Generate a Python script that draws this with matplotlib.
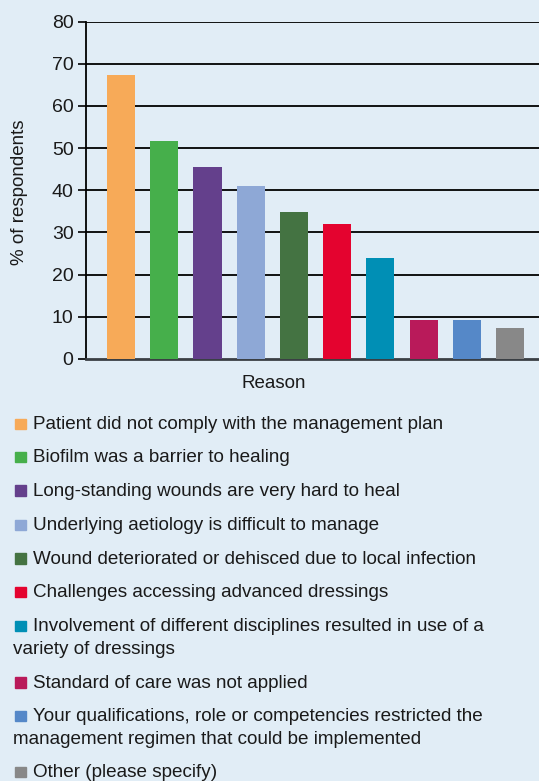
import matplotlib
matplotlib.use("Agg")
import matplotlib.pyplot as plt
from matplotlib.patches import Rectangle

plt.rcParams['font.family'] = ['Liberation Sans', 'DejaVu Sans']

categories = [
    "Patient did not comply with the management plan",
    "Biofilm was a barrier to healing",
    "Long-standing wounds are very hard to heal",
    "Underlying aetiology is difficult to manage",
    "Wound deteriorated or dehisced due to local infection",
    "Challenges accessing advanced dressings",
    "Involvement of different disciplines resulted in use of a\nvariety of dressings",
    "Standard of care was not applied",
    "Your qualifications, role or competencies restricted the\nmanagement regimen that could be implemented",
    "Other (please specify)",
]
values = [67.4, 51.7, 45.6, 41.0, 34.9, 32.0, 24.0, 9.3, 9.3, 7.4]
colors = ["#F7AA58", "#46AF4B", "#64408C", "#8EA8D6", "#447342",
          "#E4032F", "#008FB5", "#B91A5A", "#5588C8", "#888888"]
yticks = [0, 10, 20, 30, 40, 50, 60, 70, 80]

BG = "#E1EDF6"
TXT = "#1a1a1a"
W, H = 539, 781
fig = plt.figure(figsize=(W/100, H/100), dpi=100, facecolor=BG)
ax = fig.add_axes([86/W, 1-359/H, (539-86)/W, (359-21.5)/H], facecolor=BG)

x = list(range(len(values)))
ax.bar(x, values, width=0.65, color=colors, zorder=3)
ax.set_xlim(-0.81, 9.67)
ax.set_ylim(0, 80)
ax.set_yticks(yticks)
ax.set_yticklabels([str(t) for t in yticks], fontsize=14, color=TXT)
ax.set_xticks([])
for t in yticks[1:]:
    ax.axhline(t, color="black", lw=1.3, zorder=1)
ax.tick_params(axis='y', length=6, width=1.2, pad=3, color="black")
for s in ['top', 'right']:
    ax.spines[s].set_visible(False)
ax.spines['left'].set_linewidth(1.3)
ax.spines['bottom'].set_linewidth(2)
ax.spines['bottom'].set_color("#3a3f44")

fig.text(20/W, 1-192/H, "% of respondents", fontsize=13.5, rotation=90,
         va='center', ha='center', color=TXT)
fig.text(274/W, 1-388/H, "Reason", fontsize=13.5, va='baseline', ha='center', color=TXT)

# legend
baselines = [429, 462.5, 496, 530, 563.5, 597, 631, 687.5, 721, 777]
for yy, lab, c in zip(baselines, categories, colors):
    fig.add_artist(Rectangle((15/W, 1-yy/H), 10.5/W, 10.5/H,
                             transform=fig.transFigure, color=c))
    lines = lab.split("\n")
    fig.text(33/W, 1-yy/H, lines[0], fontsize=13.6, va='baseline', ha='left', color=TXT)
    if len(lines) > 1:
        fig.text(13/W, 1-(yy+23)/H, lines[1], fontsize=13.6, va='baseline', ha='left', color=TXT)

fig.savefig("out.png", dpi=100, facecolor=BG)
